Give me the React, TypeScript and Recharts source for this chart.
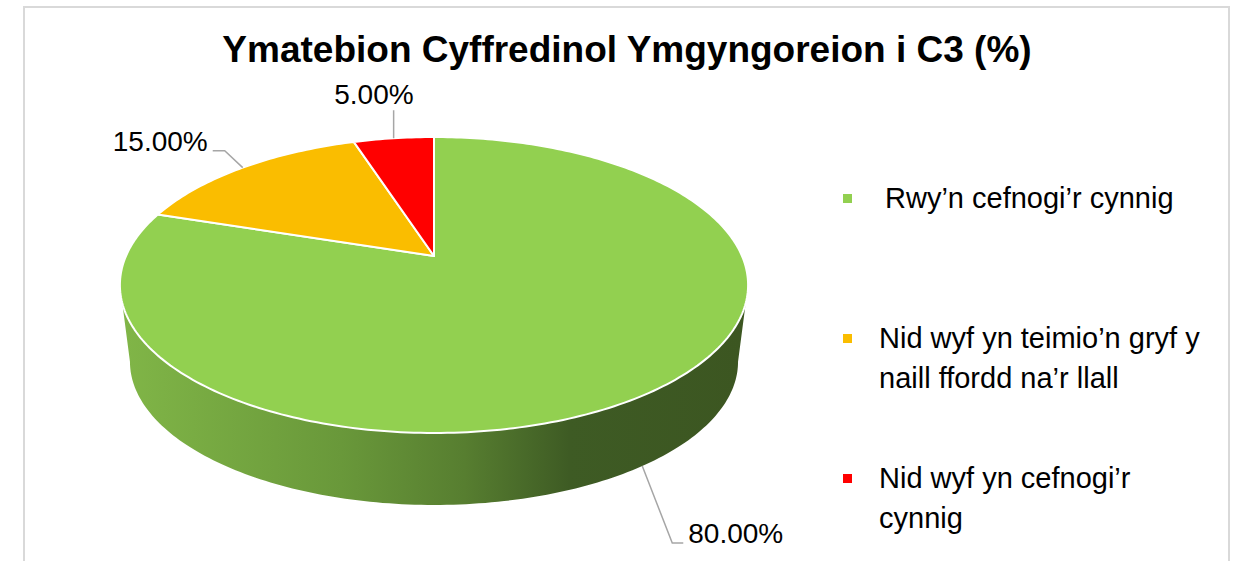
import { PieChart, Pie, Legend } from "recharts";

const names = [
  "Rwy’n cefnogi’r cynnig",
  "Nid wyf yn teimio’n gryf y naill ffordd na’r llall",
  "Nid wyf yn cefnogi’r cynnig",
];
const values = [80, 15, 5];
const colors = ["#92D050", "#FABD00", "#FF0000"];

const title = "Ymatebion Cyffredinol Ymgyngoreion i C3 (%)";
const FONT = "'Liberation Sans', Arial, sans-serif";

const data = names.map((name, i) => ({ name, value: values[i], fill: colors[i] }));

// fake 3d look: tilt + a bit of perspective
const TILT = 0.462;
const PERSP = 0.196;
const BOTTOM_SCALE = 0.968;
const DROP = 0.252;

const proj = (cx: number, cy: number, r: number, deg: number, bottom = false) => {
  const t = (deg * Math.PI) / 180;
  const s = Math.sin(t);
  const c = Math.cos(t);
  const k = 1 / (1 + PERSP * s);
  const rr = bottom ? r * BOTTOM_SCALE : r;
  const oy = bottom ? r * DROP : 0;
  return { x: cx + rr * c * k, y: cy + oy - rr * TILT * s * k };
};

const arcPts = (cx: number, cy: number, r: number, a1: number, a2: number, bottom = false) => {
  const n = Math.max(2, Math.ceil(Math.abs(a2 - a1)));
  const pts: string[] = [];
  for (let i = 0; i <= n; i++) {
    const p = proj(cx, cy, r, a1 + ((a2 - a1) * i) / n, bottom);
    pts.push(`${p.x.toFixed(2)},${p.y.toFixed(2)}`);
  }
  return pts;
};

const Slice3D = (props: any) => {
  const { cx, cy, outerRadius, startAngle, endAngle, fill, index } = props;
  const lo = Math.min(startAngle, endAngle);
  const hi = Math.max(startAngle, endAngle);
  const silo = (Math.asin(PERSP) * 180) / Math.PI;
  const walls: string[] = [];
  [-360, 0, 360].forEach((sh) => {
    const f1 = Math.max(lo, 180 + silo + sh);
    const f2 = Math.min(hi, 360 - silo + sh);
    if (f2 > f1) {
      const top = arcPts(cx, cy, outerRadius, f1, f2);
      const bot = arcPts(cx, cy, outerRadius, f2, f1, true);
      walls.push("M" + top.join(" L") + " L" + bot.join(" L") + " Z");
    }
  });
  const topFace = "M" + cx + "," + cy + " L" + arcPts(cx, cy, outerRadius, startAngle, endAngle).join(" L") + " Z";
  const gid = `side-${index}`;
  return (
    <g>
      <defs>
        <linearGradient id={gid} gradientUnits="userSpaceOnUse" x1={cx - outerRadius} y1={0} x2={cx + outerRadius} y2={0}>
          <stop offset="0%" stopColor="#80b547" />
          <stop offset="35%" stopColor="#69983a" />
          <stop offset="55%" stopColor="#577e30" />
          <stop offset="72%" stopColor="#3e5b24" />
          <stop offset="100%" stopColor="#3c5621" />
        </linearGradient>
      </defs>
      {walls.map((d, i) => (
        <path key={i} d={d} fill={`url(#${gid})`} stroke="none" />
      ))}
      <path d={topFace} fill={fill} stroke="#fff" strokeWidth={2} strokeLinejoin="round" />
    </g>
  );
};

// leader line layout for each label: elbow offset, tail length, text offset
const leaders = [
  { bottom: true, elbow: [30, 77], tail: 11, text: [5, 0], anchor: "start" },
  { bottom: false, elbow: [-18, -17], tail: -12, text: [-5, 0], anchor: "end" },
  { bottom: false, elbow: [0, -28], tail: 0, text: [20, -6], anchor: "end" },
];

const renderLabel = (props: any) => {
  const { cx, cy, outerRadius, midAngle, index, value } = props;
  const L = leaders[index];
  const p = proj(cx, cy, outerRadius, midAngle, L.bottom);
  const e = { x: p.x + L.elbow[0], y: p.y + L.elbow[1] };
  const t = { x: e.x + L.tail, y: e.y };
  return (
    <g>
      <polyline points={`${p.x},${p.y} ${e.x},${e.y} ${t.x},${t.y}`} fill="none" stroke="#a6a6a6" strokeWidth={1.5} />
      <text x={t.x + L.text[0]} y={t.y + L.text[1]} textAnchor={L.anchor as any} fontSize={28} fontFamily={FONT} fill="#000">
        {`${Number(value).toFixed(2)}%`}
      </text>
    </g>
  );
};

const renderLegend = ({ payload }: any) => {
  const items = [...(payload || [])].sort((a: any, b: any) => names.indexOf(a.value) - names.indexOf(b.value));
  return (
    <div style={{ fontFamily: FONT, fontSize: 29, color: "#000" }}>
      {items.map((p: any, i: number) => (
        <div key={i} style={{ display: "flex", height: 140, lineHeight: "40px" }}>
          <div style={{ width: 9, height: 9, background: p.color, marginTop: 15.5, marginRight: 27, flex: "none" }} />
          <div style={{ width: 330, marginLeft: i === 0 ? 6 : 0 }}>{p.value}</div>
        </div>
      ))}
    </div>
  );
};

export default function App() {
  return (
    <div style={{ position: "absolute", left: 0, top: 0, width: 1235, height: 561, overflow: "hidden", background: "#fff" }}>
      <div style={{ position: "absolute", left: 23, top: 6, width: 1203, height: 600, border: "2px solid #d9d9d9" }} />
      <div
        style={{
          position: "absolute",
          left: 0,
          top: 28,
          width: 1254,
          textAlign: "center",
          fontFamily: FONT,
          fontWeight: "bold",
          fontSize: 37,
          lineHeight: "44px",
          color: "#000",
        }}
      >
        {title}
      </div>
      <div style={{ position: "absolute", left: 0, top: 0 }}>
        <PieChart width={1235} height={561} margin={{ top: 0, right: 0, bottom: 0, left: 0 }}>
          <Pie
            data={data}
            dataKey="value"
            nameKey="name"
            cx={434}
            cy={256}
            outerRadius={308}
            startAngle={90}
            endAngle={-270}
            shape={Slice3D}
            label={renderLabel}
            labelLine={false}
            isAnimationActive={false}
          />
          <Legend
            content={renderLegend}
            layout="vertical"
            verticalAlign="top"
            align="right"
            wrapperStyle={{ position: "absolute", left: 843, top: 178, width: 380 }}
          />
        </PieChart>
      </div>
    </div>
  );
}
